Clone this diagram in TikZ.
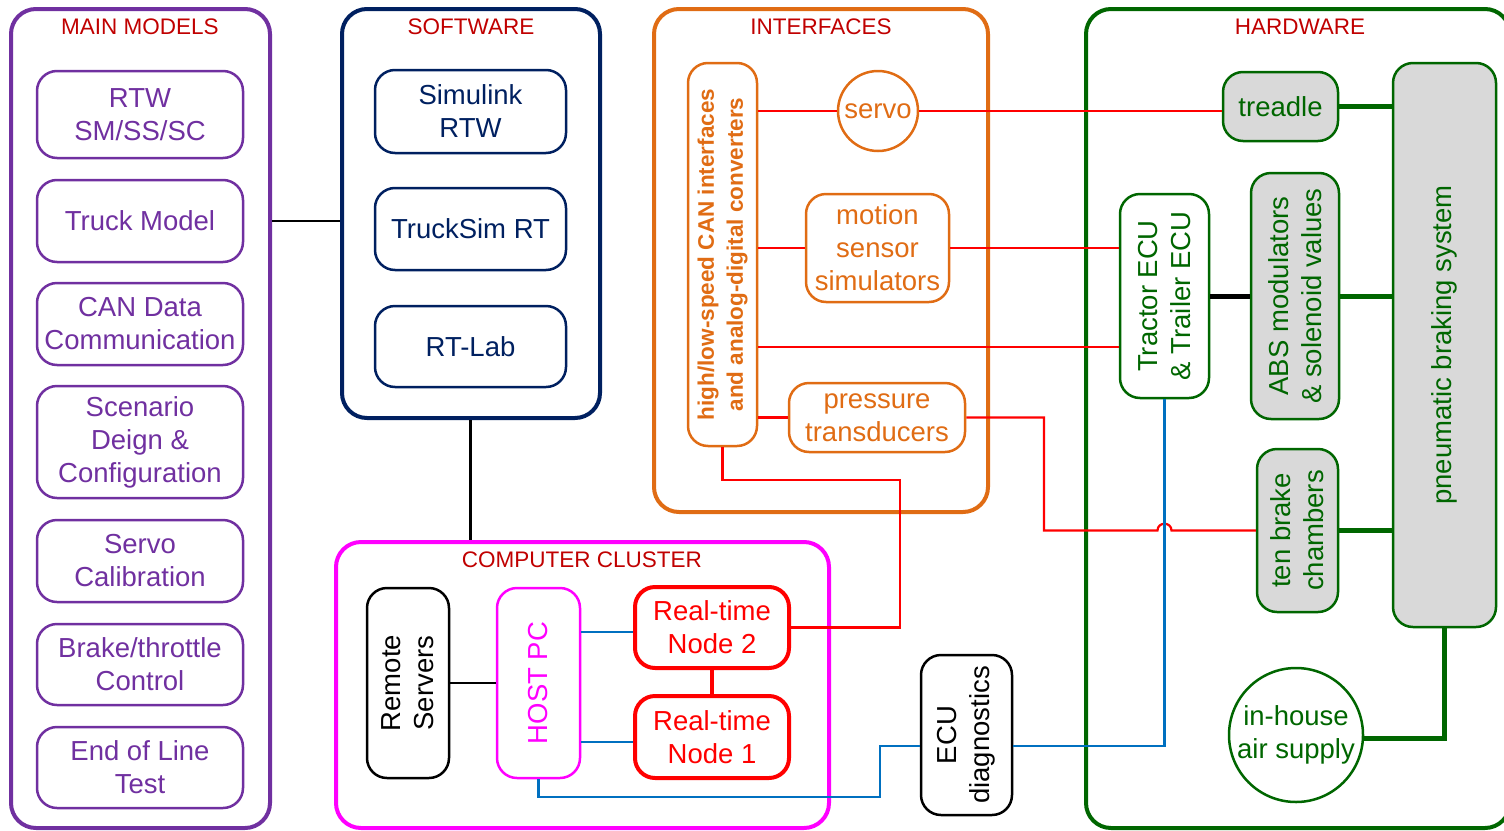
\documentclass[tikz,border=0pt]{standalone}
\usepackage{fontspec}
\setmainfont{Liberation Sans}
\definecolor{cpur}{HTML}{7030A0}
\definecolor{cnavy}{HTML}{002060}
\definecolor{corg}{HTML}{E06C14}
\definecolor{ctitle}{HTML}{C00000}
\definecolor{cgreen}{HTML}{006600}
\definecolor{cgrey}{HTML}{D9D9D9}
\definecolor{cblue}{HTML}{0070C0}
\definecolor{cmag}{HTML}{FF00FF}
\definecolor{cred}{HTML}{FF0000}
\tikzset{
  txt/.style={font=\fontsize{27.5pt}{33pt}\selectfont, align=center},
  ttl/.style={font=\fontsize{22.5pt}{27pt}\selectfont, text=ctitle},
  outer/.style={draw, rounded corners=25pt, line width=4pt, inner sep=0pt},
  box/.style={draw, rounded corners=20pt, line width=2.5pt, inner sep=0pt, txt},
  mm/.style={box, draw=cpur, text=cpur, minimum width=206pt},
  sw/.style={box, draw=cnavy, text=cnavy, minimum width=191pt},
  ifb/.style={box, draw=corg, text=corg},
  hwg/.style={box, draw=cgreen, text=cgreen, fill=cgrey},
  rl/.style={draw=cred, line width=2.2pt},
  bl/.style={draw=cblue, line width=2.2pt},
  gl/.style={draw=cgreen, line width=5pt},
  kl/.style={draw=black, line width=2.2pt},
}
\begin{document}
\begin{tikzpicture}[x=1pt,y=-1pt]
\useasboundingbox (0,0) rectangle (1504,830);
% ---------- MAIN MODELS
\node[outer, draw=cpur, minimum width=259pt, minimum height=819pt] (main) at (140.5,418.5) {};
\node[ttl] (tmain) at (140,27) {MAIN MODELS};
\node[mm, minimum height=87pt] (rtw) at (140,114.5) {RTW\\SM/SS/SC};
\node[mm, minimum height=82pt] (truck) at (140,221) {Truck Model};
\node[mm, minimum height=82pt] (can) at (140,324) {CAN Data\\Communication};
\node[mm, minimum height=112pt] (scen) at (140,442) {Scenario\\Deign \&\\Configuration};
\node[mm, minimum height=82pt] (servoc) at (140,561) {Servo\\Calibration};
\node[mm, minimum height=81pt] (brakec) at (140,664.5) {Brake/throttle\\Control};
\node[mm, minimum height=81pt] (eol) at (140,767.5) {End of Line\\Test};
% ---------- SOFTWARE
\node[outer, draw=cnavy, minimum width=258pt, minimum height=409pt] (soft) at (471,213.5) {};
\node[ttl] (tsoft) at (471,27) {SOFTWARE};
\node[sw, minimum height=83pt] (simu) at (470.5,111.5) {Simulink\\RTW};
\node[sw, minimum height=82pt] (tsim) at (470.5,229) {TruckSim RT};
\node[sw, minimum height=81pt] (rtlab) at (470.5,346.5) {RT-Lab};
% ---------- INTERFACES
\node[outer, draw=corg, minimum width=334pt, minimum height=503pt] (inter) at (821,260.5) {};
\node[ttl] (tinter) at (821,27) {INTERFACES};
\node[ifb, minimum width=69pt, minimum height=383pt] (ifc) at (722.5,254.5) {};
\node[rotate=90, text=corg, align=center, font=\fontsize{22.5pt}{29pt}\selectfont\bfseries] (ifct) at (ifc) {high/low-speed CAN interfaces\\and analog-digital converters};
\node[ifb, circle, rounded corners=0pt, minimum size=80pt] (servo) at (878,111) {servo};
\node[ifb, minimum width=143pt, minimum height=108pt] (motion) at (877.5,248) {motion\\sensor\\simulators};
\node[ifb, minimum width=176pt, minimum height=69pt] (press) at (877,417.5) {pressure\\transducers};
% ---------- COMPUTER CLUSTER
\node[outer, draw=cmag, minimum width=493pt, minimum height=286pt] (clus) at (582.5,685) {};
\node[ttl] (tclus) at (582,560) {COMPUTER CLUSTER};
\node[box, draw=black, minimum width=82pt, minimum height=190pt] (remote) at (408,683) {};
\node[txt, rotate=90] (remotet) at (remote) {Remote\\Servers};
\node[box, draw=cmag, minimum width=83pt, minimum height=190pt] (host) at (538.5,683) {};
\node[txt, rotate=90, text=cmag] (hostt) at (host) {HOST PC};
\node[box, draw=cred, text=cred, line width=4pt, minimum width=154pt, minimum height=81pt] (node2) at (712,627.5) {Real-time\\Node 2};
\node[box, draw=cred, text=cred, line width=4pt, minimum width=154pt, minimum height=82pt] (node1) at (712,737) {Real-time\\Node 1};
\node[box, draw=black, minimum width=91pt, minimum height=160pt] (diag) at (966.5,735) {};
\node[txt, rotate=90] (diagt) at (diag) {ECU\\diagnostics};
% ---------- HARDWARE
\node[outer, draw=cgreen, minimum width=424pt, minimum height=819pt] (hw) at (1298,418.5) {};
\node[ttl] (thw) at (1300,27) {HARDWARE};
\node[hwg, minimum width=115pt, minimum height=69pt] (treadle) at (1280.5,106.5) {treadle};
\node[hwg, minimum width=103pt, minimum height=564pt] (pneu) at (1444.5,345) {};
\node[txt, rotate=90, text=cgreen] (pneut) at (pneu) {pneumatic braking system};
\node[box, draw=cgreen, minimum width=89pt, minimum height=204pt] (ecu) at (1164.5,296) {};
\node[txt, rotate=90, text=cgreen] (ecut) at (ecu) {Tractor ECU\\\& Trailer ECU};
\node[hwg, minimum width=88pt, minimum height=246pt] (abs) at (1295,296) {};
\node[txt, rotate=90, text=cgreen] (abst) at (abs) {ABS modulators\\\& solenoid values};
\node[hwg, minimum width=81pt, minimum height=163pt] (brake) at (1297.5,530.5) {};
\node[txt, rotate=90, text=cgreen] (braket) at (brake) {ten brake\\chambers};
\node[box, circle, rounded corners=0pt, draw=cgreen, text=cgreen, minimum size=134pt] (air) at (1296,735) {in-house\\air supply};
% ---------- connectors
\draw[kl] (main.east |- truck) -- (soft.west |- truck);
\draw[kl] (soft.south -| simu) -- (simu |- clus.north);
% interfaces red
\draw[rl] (ifc.east |- servo) -- (servo.west);
\draw[rl] (servo.east) -- (servo.east -| treadle.west);
\draw[rl] (ifc.east |- motion) -- (motion.west);
\draw[rl] (motion.east) -- (motion.east -| ecu.west);
\draw[rl] (ifc.east |- 0,347) -- (ecu.west |- 0,347);
\draw[rl] (ifc.east |- press) -- (press.west);
\coordinate (c3) at (1044,0 |- brake.west);
\coordinate (hp) at (ecu.south |- c3);
\draw[rl] (press.east) -| (c3) -- ([xshift=-7pt]hp)
  .. controls ([xshift=-7pt,yshift=9pt]hp) and ([xshift=7pt,yshift=9pt]hp) .. ([xshift=7pt]hp)
  -- (brake.west);
\coordinate (c1) at (900,480);
\draw[rl] (ifc.south) |- (c1) |- (node2.east);
% cluster
\draw[kl] (remote.east) -- (host.west);
\draw[bl] (host.east |- 0,632) -- (node2.west |- 0,632);
\draw[bl] (host.east |- 0,742) -- (node1.west |- 0,742);
\draw[cred, line width=4pt] (node2.south) -- (node1.north);
\coordinate (c2) at (880,797);
\draw[bl] (diag.west |- 0,746) -| (c2) -| (host.south);
\draw[bl] (ecu.south) |- (diag.east |- 0,746);
% hardware
\draw[gl] (treadle.east) -- (treadle.east -| pneu.west);
\draw[gl] (abs.east) -- (abs.east -| pneu.west);
\draw[gl] (brake.east) -- (brake.east -| pneu.west);
\draw[gl] (air.east |- 0,738) -| (pneu.south);
\draw[black, line width=5pt] (ecu.east) -- (abs.west);
\end{tikzpicture}
\end{document}
